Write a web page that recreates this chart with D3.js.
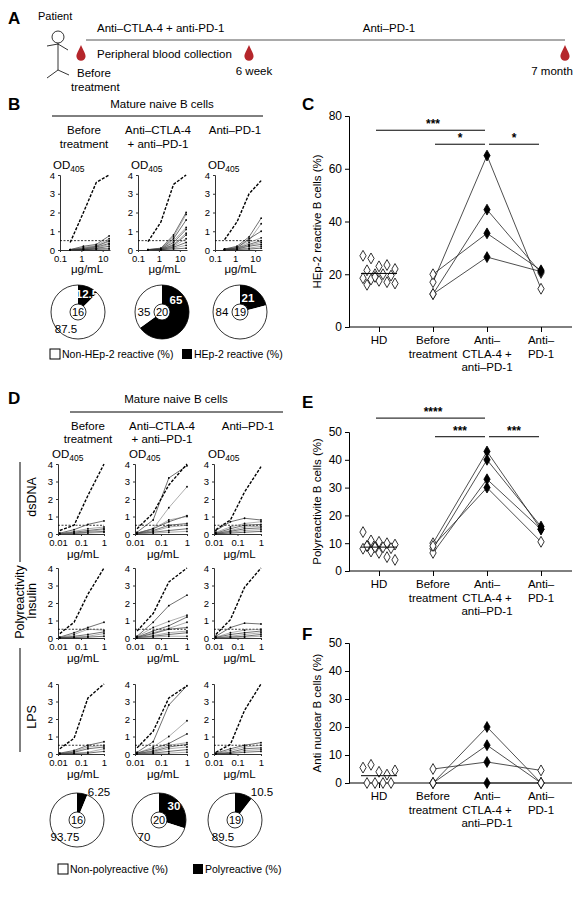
<!DOCTYPE html>
<html><head><meta charset="utf-8">
<script src="https://cdn.jsdelivr.net/npm/d3@7"></script>
<style>body{margin:0;background:#fff}svg{font-family:"Liberation Sans",Arial,sans-serif}</style>
</head><body><svg id="fig" width="582" height="900"></svg>
<script>
// ---- data ----
const groups = ["HD", "Before\ntreatment", "Anti–\nCTLA-4 +\nanti–PD-1", "Anti–\nPD-1"];
const colHeads = [["Before", "treatment"], ["Anti–CTLA-4", "+ anti–PD-1"], ["Anti–PD-1"]];

// panel B ELISA curves (OD405 at 4 concentrations)
const concB = [0.3, 1.25, 5, 20];
const ctrlB = [[0.4, 2.0, 3.6, 4.0], [0.45, 1.5, 3.5, 4.0], [0.55, 1.5, 3.0, 3.7]];
const curvesB = [
  [[0.02,0.2,0.3,0.75],[0.02,0.15,0.25,0.6],[0.02,0.1,0.2,0.5],[0.01,0.08,0.2,0.45],[0.01,0.05,0.15,0.35],[0.01,0.05,0.1,0.3],[0.01,0.03,0.08,0.2],[0.01,0.02,0.05,0.1],[0.01,0.02,0.04,0.05]],
  [[0.02,0.1,0.8,2.0],[0.02,0.08,0.7,1.9],[0.02,0.06,0.6,1.6],[0.01,0.05,0.5,1.2],[0.01,0.05,0.4,1.1],[0.01,0.05,0.3,0.9],[0.01,0.04,0.25,0.8],[0.01,0.03,0.2,0.6],[0.01,0.02,0.15,0.4],[0.01,0.02,0.1,0.25],[0.01,0.02,0.05,0.1]],
  [[0.05,0.2,0.7,1.7],[0.05,0.15,0.5,1.4],[0.04,0.12,0.6,1.0],[0.03,0.1,0.4,0.65],[0.03,0.1,0.3,0.5],[0.02,0.08,0.25,0.4],[0.02,0.05,0.2,0.3],[0.02,0.04,0.1,0.2],[0.01,0.03,0.05,0.1]]
];
const pieB = [12.5, 65, 21];
const nB = [16, 20, 19];

// panel D ELISA curves
const concD = [0.012, 0.05, 0.2, 1];
const ctrlD = [
  [[0.2, 0.5, 2.2, 4.0], [0.3, 1.2, 2.8, 4.0], [0.25, 0.8, 2.4, 3.85]],
  [[0.25, 0.9, 2.5, 4.0], [0.4, 1.4, 3.2, 4.0], [0.2, 1.05, 2.9, 4.0]],
  [[0.3, 0.9, 3.2, 4.0], [0.35, 1.3, 3.2, 3.9], [0.1, 0.55, 2.5, 4.0]]
];
const curvesD = [
  [[[0.05,0.25,0.55,0.75],[0.03,0.15,0.3,0.4],[0.02,0.1,0.2,0.3],[0.02,0.05,0.15,0.25],[0.01,0.03,0.1,0.15],[0.01,0.02,0.05,0.1]],
   [[0.1,0.8,3.2,3.9],[0.05,0.3,1.5,2.7],[0.05,0.3,0.7,1.05],[0.05,0.3,0.8,1.0],[0.03,0.2,0.5,0.6],[0.02,0.15,0.4,0.5],[0.02,0.1,0.2,0.3],[0.01,0.05,0.1,0.15]],
   [[0.2,0.7,0.9,0.8],[0.1,0.4,0.6,0.7],[0.05,0.3,0.5,0.55],[0.05,0.2,0.4,0.45],[0.03,0.15,0.3,0.35],[0.02,0.1,0.2,0.25],[0.01,0.05,0.1,0.15]]],
  [[[0.05,0.3,0.6,0.9],[0.03,0.2,0.5,0.45],[0.02,0.1,0.2,0.35],[0.01,0.05,0.1,0.25],[0.01,0.03,0.05,0.1]],
   [[0.1,0.9,1.85,2.45],[0.08,0.6,0.95,1.3],[0.05,0.4,0.7,1.2],[0.05,0.3,0.55,0.9],[0.03,0.25,0.5,0.6],[0.02,0.15,0.3,0.4],[0.02,0.1,0.2,0.3],[0.01,0.05,0.1,0.1]],
   [[0.1,0.6,0.85,0.8],[0.05,0.3,0.45,0.5],[0.03,0.2,0.3,0.4],[0.02,0.1,0.2,0.3],[0.01,0.05,0.1,0.2],[0.01,0.03,0.05,0.1]]],
  [[[0.05,0.2,0.5,0.7],[0.03,0.15,0.4,0.5],[0.02,0.1,0.3,0.4],[0.01,0.05,0.1,0.3],[0.01,0.03,0.05,0.15]],
   [[0.1,0.7,2.8,3.9],[0.05,0.4,1.0,1.9],[0.05,0.3,0.6,1.15],[0.03,0.2,0.5,0.65],[0.03,0.15,0.4,0.55],[0.02,0.1,0.3,0.4],[0.01,0.05,0.15,0.25],[0.01,0.03,0.05,0.1]],
   [[0.05,0.3,0.5,0.65],[0.03,0.2,0.4,0.5],[0.02,0.1,0.3,0.35],[0.01,0.05,0.2,0.25],[0.01,0.03,0.1,0.15]]]
];
const rowsD = ["dsDNA", "Insulin", "LPS"];
const pieD = [6.25, 30, 10.5];
const nD = [16, 20, 19];

// panel C
const hdC = [27, 26, 23, 23.5, 22, 21.5, 20, 20, 19.5, 18.5, 18, 17.5, 17, 16.5, 16, 19];
const pairsC = [[17, 65, 14.5], [12.5, 44.5, 20.5], [20, 35.5, 21.5], [12.5, 26.5, 21]];
const filledC = [[0, 1, 0], [0, 1, 0], [0, 1, 1], [0, 1, 1]];
// panel E
const hdE = [14, 11, 10.5, 10, 9.5, 9, 8.8, 8.5, 8.2, 8, 7, 6.5, 5, 4, 9, 8.5];
const pairsE = [[10, 43, 15], [8, 40, 16], [6.5, 33, 15], [9, 30, 10.5]];
const filledE = [[0, 1, 1], [0, 1, 1], [0, 1, 1], [0, 1, 0]];
// panel F
const hdF = [5.5, 6.5, 4, 3, 4.5, 0, 0, 0, 0];
const pairsF = [[0, 20, 0], [0, 13.5, 0], [5, 7.5, 4.5], [0, 0, 0]];
const filledF = [[0, 1, 0], [0, 1, 0], [0, 1, 0], [0, 1, 0]];

// ---- drawing ----
const svg = d3.select("#fig");
const txt = (x, y, s, o = {}) => svg.append("text").attr("x", x).attr("y", y)
  .attr("font-size", o.size || 11).attr("text-anchor", o.anchor || "middle")
  .attr("font-weight", o.bold ? "bold" : null).attr("fill", o.fill || "#000").text(s);
const letter = (x, y, s) => txt(x, y, s, { size: 17, bold: true, anchor: "start" });

// Panel A
letter(8, 24, "A");
txt(38, 20, "Patient", { anchor: "start", size: 11 });
const fig = svg.append("g").attr("stroke", "#000").attr("fill", "none").attr("stroke-width", 0.8);
fig.append("circle").attr("cx", 58).attr("cy", 37).attr("r", 6);
fig.append("path").attr("d", "M58,43V70M47,46L58,44L68,50M47,78L58,70L69,75");
svg.append("line").attr("x1", 86).attr("x2", 565).attr("y1", 40).attr("y2", 40).attr("stroke", "#555").attr("stroke-width", 1);
txt(97, 32, "Anti–CTLA-4 + anti-PD-1", { anchor: "start", size: 11.5 });
txt(389, 32, "Anti–PD-1", { size: 11.5 });
txt(97, 58, "Peripheral blood collection", { anchor: "start", size: 11.5 });
const drop = (x, y) => svg.append("path").attr("fill", "#b5262b")
  .attr("d", `M${x},${y - 9}C${x + 2},${y - 4} ${x + 5},${y} ${x + 4.5},${y + 3}A4.6,4.6 0 0 1 ${x - 4.5},${y + 3}C${x - 5},${y} ${x - 2},${y - 4} ${x},${y - 9}Z`);
drop(81, 54); drop(249, 54); drop(565, 54);
txt(77, 77, "Before", { anchor: "start", size: 11.5 });
txt(71, 91, "treatment", { anchor: "start", size: 11.5 });
txt(254, 75, "6 week", { size: 11.5 });
txt(552, 75, "7 month", { size: 11.5 });

// mini ELISA chart
function mini(x0, x1, yTop, yBot, dom, ticks, tickFmt, conc, ctrl, curves) {
  const x = d3.scaleLog().domain(dom).range([x0, x1]);
  const y = d3.scaleLinear().domain([0, 4]).range([yBot, yTop]);
  const g = svg.append("g");
  g.append("g").attr("transform", `translate(${x0},0)`)
    .call(d3.axisLeft(y).ticks(4).tickSize(2).tickFormat(d3.format("d")));
  g.append("g").attr("transform", `translate(0,${yBot})`)
    .call(d3.axisBottom(x).tickValues(ticks).tickSize(2).tickFormat(tickFmt).tickSizeOuter(0));
  g.selectAll(".domain").attr("stroke", "#333");
  g.selectAll(".tick text").attr("font-size", 9.5).attr("font-family", "Liberation Sans, Arial");
  g.selectAll(".tick line").attr("stroke", "#333");
  g.append("line").attr("x1", x0).attr("x2", x1).attr("y1", y(0.5)).attr("y2", y(0.5))
    .attr("stroke", "#000").attr("stroke-dasharray", "2,1.5").attr("stroke-width", 0.8);
  const line = d3.line().x((d, i) => x(conc[i])).y(d => y(d));
  curves.forEach((c, k) => {
    g.append("path").attr("d", line(c)).attr("fill", "none")
      .attr("stroke", k % 2 ? "#777" : "#111").attr("stroke-width", 0.6);
    g.selectAll(null).data(c).join("circle").attr("cx", (d, i) => x(conc[i])).attr("cy", d => y(d))
      .attr("r", 0.9).attr("fill", "#000");
  });
  g.append("path").attr("d", line(ctrl)).attr("fill", "none").attr("stroke", "#000")
    .attr("stroke-width", 1.4).attr("stroke-dasharray", "3,1.5");
}
function od(x, y) {
  const t = txt(x, y, "OD", { anchor: "start", size: 11.5 });
  t.append("tspan").attr("font-size", 8.5).attr("dy", 3).text("405");
}
function pie(cx, cy, r, pct, n, labelPos) {
  const arc = d3.arc().innerRadius(0).outerRadius(r);
  const p = d3.pie().sort(null)([pct, 100 - pct]);
  svg.append("path").attr("transform", `translate(${cx},${cy})`).attr("d", arc(p[0])).attr("fill", "#000");
  svg.append("path").attr("transform", `translate(${cx},${cy})`).attr("d", arc(p[1])).attr("fill", "#fff");
  svg.append("circle").attr("cx", cx).attr("cy", cy).attr("r", r).attr("fill", "none").attr("stroke", "#000").attr("stroke-width", 0.8);
  svg.append("circle").attr("cx", cx).attr("cy", cy).attr("r", 8).attr("fill", "#fff").attr("stroke", "#000").attr("stroke-width", 0.8);
  txt(cx, cy + 4, n, { size: 11 });
  labelPos.forEach(([dx, dy, s, fill, bold]) => txt(cx + dx, cy + dy, s, { size: 11.5, fill, bold }));
}
function legend(x1, x2, y, a, b) {
  svg.append("rect").attr("x", x1).attr("y", y - 9).attr("width", 10).attr("height", 10).attr("fill", "#fff").attr("stroke", "#000").attr("stroke-width", 1);
  txt(x1 + 12, y, a, { anchor: "start", size: 10.5 });
  svg.append("rect").attr("x", x2).attr("y", y - 9).attr("width", 10).attr("height", 10).attr("fill", "#000");
  txt(x2 + 12, y, b, { anchor: "start", size: 10.5 });
}
const fmtB = d => d < 1 ? "0.1" : d3.format("d")(d);
const fmtD = d => d < 0.05 ? "0.01" : d < 0.5 ? "0.1" : "1";

// Panel B
letter(8, 110, "B");
txt(162, 108, "Mature naive B cells", { size: 11.5 });
svg.append("line").attr("x1", 52).attr("x2", 263).attr("y1", 116).attr("y2", 116).attr("stroke", "#000");
const bx = [[60, 110], [138, 187], [215, 262]];
const bHead = [84, 158, 235];
bx.forEach(([a, b], i) => {
  colHeads[i].forEach((s, j) => txt(bHead[i], 134 + j * 14, s, { size: 11.5 }));
  od(a - 7, 169);
  mini(a, b, 175, 250, [0.1, 22], [0.1, 1, 10], fmtB, concB, ctrlB[i], curvesB[i]);
  txt((a + b) / 2 + 2, 273, "μg/mL", { size: 11.5 });
});
pie(78, 312, 27, pieB[0], nB[0], [[9, -14, "12.5", "#fff", true], [-12, 21, "87.5", "#000"]]);
pie(162, 312, 27, pieB[1], nB[1], [[14, -8, "65", "#fff", true], [-18, 4, "35", "#000"]]);
pie(240, 312, 27, pieB[2], nB[2], [[8, -10, "21", "#fff", true], [-18, 4, "84", "#000"]]);
legend(50, 182, 358, "Non-HEp-2 reactive (%)", "HEp-2 reactive (%)");

// Panel D
letter(8, 404, "D");
txt(176, 403, "Mature naive B cells", { size: 11.5 });
svg.append("line").attr("x1", 70).attr("x2", 283).attr("y1", 412).attr("y2", 412).attr("stroke", "#000");
const dx = [[58, 104], [135, 187], [214, 261]];
const dHead = [88, 162, 248];
const dRows = [[464, 534], [568, 638], [684, 754]];
dx.forEach(([a, b], i) => {
  colHeads[i].forEach((s, j) => txt(dHead[i], 430 + j * 13, s, { size: 11.5 }));
  od(a - 6, 458);
  dRows.forEach(([t, bt], r) => {
    mini(a, b, t, bt, [0.01, 1], [0.01, 0.1, 1], fmtD, concD, ctrlD[r][i], curvesD[r][i]);
    txt((a + b) / 2 + 2, bt + 24, "μg/mL", { size: 11.5 });
  });
});
rowsD.forEach((s, r) => {
  const cy = (dRows[r][0] + dRows[r][1]) / 2 - 2;
  txt(0, 0, s, { size: 12.5 }).attr("transform", `translate(36,${cy}) rotate(-90)`);
});
txt(0, 0, "Polyreactivity", { size: 12.5 }).attr("transform", `translate(24,602) rotate(-90)`);
svg.append("path").attr("d", "M20,462V562M20,648V752").attr("stroke", "#000").attr("fill", "none");
pie(77, 820, 27, pieD[0], nD[0], [[22, -24, "6.25", "#000"], [-12, 21, "93.75", "#000"]]);
pie(159, 820, 27, pieD[1], nD[1], [[15, -10, "30", "#fff", true], [-15, 21, "70", "#000"]]);
pie(235, 820, 27, pieD[2], nD[2], [[27, -24, "10.5", "#000"], [-12, 21, "89.5", "#000"]]);
legend(58, 193, 873, "Non-polyreactive (%)", "Polyreactive (%)");

// dot plots C, E, F
const gx = d3.scalePoint().domain(groups).range([379, 541]);
function dotPlot(top, bot, ymax, step, hd, pairs, filled, ylab, sig) {
  const y = d3.scaleLinear().domain([0, ymax]).range([bot, top]);
  const g = svg.append("g");
  g.append("g").attr("transform", "translate(349,0)")
    .call(d3.axisLeft(y).ticks(ymax / step).tickSize(4).tickFormat(d3.format("d")));
  g.append("g").attr("transform", `translate(0,${bot})`)
    .call(d3.axisBottom(gx).tickSize(5).tickFormat("").tickSizeOuter(0))
    .select(".domain").attr("d", `M349,0H572`);
  g.selectAll(".tick text").attr("font-size", 12).attr("font-family", "Liberation Sans, Arial");
  groups.forEach(s => s.split("\n").forEach((l, j) =>
    txt(gx(s), bot + 17 + j * 13.5, l, { size: 11.5 })));
  txt(0, 0, ylab, { size: 11.5 }).attr("transform", `translate(321,${(top + bot) / 2}) rotate(-90)`);
  const dia = d3.symbol().type(d3.symbolDiamond).size(34);
  const off = [-16, -8, 0, 8, 16, -12, -4, 4, 12];
  hd.forEach((v, i) => g.append("path").attr("d", dia())
    .attr("transform", `translate(${gx(groups[0]) + off[i % 9]},${y(v)})`)
    .attr("fill", "#fff").attr("stroke", "#000").attr("stroke-width", 0.8));
  g.append("line").attr("x1", gx(groups[0]) - 18).attr("x2", gx(groups[0]) + 18)
    .attr("y1", y(d3.mean(hd))).attr("y2", y(d3.mean(hd))).attr("stroke", "#000").attr("stroke-width", 1);
  const line = d3.line().x((d, i) => gx(groups[i + 1])).y(d => y(d));
  pairs.forEach(p => g.append("path").attr("d", line(p)).attr("fill", "none").attr("stroke", "#222").attr("stroke-width", 0.8));
  pairs.forEach((p, k) => p.forEach((v, i) => g.append("path").attr("d", dia())
    .attr("transform", `translate(${gx(groups[i + 1])},${y(v)})`)
    .attr("fill", filled[k][i] ? "#000" : "#fff")
    .attr("stroke", "#000").attr("stroke-width", 0.8)));
  sig.forEach(([a, b, v, s]) => {
    g.append("line").attr("x1", gx(groups[a]) + (a ? 2 : -3)).attr("x2", gx(groups[b]) - 2)
      .attr("y1", y(v)).attr("y2", y(v)).attr("stroke", "#000");
    txt((gx(groups[a]) + gx(groups[b])) / 2, y(v) - 2, s, { size: 12, bold: true });
  });
}
letter(302, 110, "C");
dotPlot(116, 327, 80, 20, hdC, pairsC, filledC, "HEp-2 reactive B cells (%)", [[0, 2, 74.6, "***"], [1, 2, 69.3, "*"], [2, 3, 69.3, "*"]]);
letter(302, 408, "E");
dotPlot(432, 571, 50, 10, hdE, pairsE, filledE, "Polyreactivite B cells (%)", [[0, 2, 55, "****"], [1, 2, 48.3, "***"], [2, 3, 48.3, "***"]]);
letter(302, 640, "F");
dotPlot(643, 783, 50, 10, hdF, pairsF, filledF, "Anti nuclear B cells (%)", []);
</script></body></html>
